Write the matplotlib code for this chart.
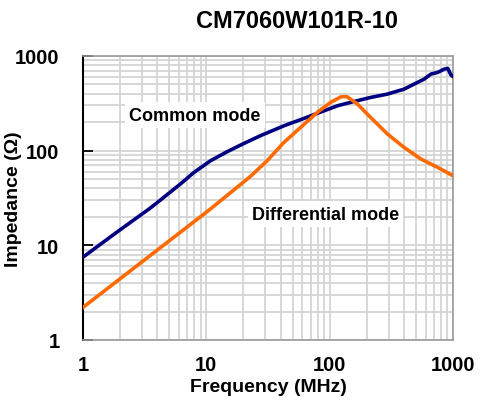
import matplotlib
matplotlib.use("Agg")
import matplotlib.pyplot as plt
from matplotlib.ticker import NullFormatter, LogLocator

plt.rcParams['font.family'] = ['Liberation Sans', 'DejaVu Sans']
plt.rcParams['font.weight'] = 'bold'

# Common mode impedance
f_cm = [1, 1.87, 3.49, 4.23, 6.3, 7.88, 10.8, 14.7, 20.1, 27.5, 42.5, 61.8, 79.4,
        115.6, 148, 215, 294, 402, 484, 584, 662, 751, 850, 906, 963, 1000]
z_cm = [7.5, 13.7, 24.6, 30.0, 45.5, 58.5, 78.2, 97.3, 119, 144, 183, 219, 248,
        298, 324, 365, 396, 447, 505, 570, 644, 671, 727, 740, 629, 609]

# Differential mode impedance
f_dm = [1, 10.8, 22.8, 31.1, 42.5, 58.1, 79.4, 102, 123, 131, 139, 168, 202,
        294, 402, 550, 751, 1000]
z_dm = [2.21, 24.2, 53.5, 78.2, 122, 176, 254, 324, 370, 373, 370, 311, 243,
        150, 108, 81.5, 66.6, 54.3]

title = "CM7060W101R-10"
xticks = [1, 10, 100, 1000]
yticks = [1, 10, 100, 1000]

fig = plt.figure(figsize=(4.91, 4.02), dpi=100)
ax = fig.add_axes([83/491, 1-341/402, (453-83)/491, (341-57)/402])

ax.set_xscale('log')
ax.set_yscale('log')
ax.set_xlim(1, 1000)
ax.set_ylim(1, 1000)

ax.grid(True, which='both', color='#d4d4d4', linewidth=1.3)
ax.set_axisbelow(True)

ax.plot(f_cm, z_cm, color='#000080', linewidth=2.6, zorder=3, solid_joinstyle='round')
ax.plot(f_dm, z_dm, color='#ff6a00', linewidth=2.6, zorder=3, solid_joinstyle='round')

ax.set_xticks(xticks)
ax.set_xticklabels([str(v) for v in xticks])
ax.set_yticks(yticks)
ax.set_yticklabels([str(v) for v in yticks])
ax.xaxis.set_minor_locator(LogLocator(base=10, subs=range(2, 10)))
ax.yaxis.set_minor_locator(LogLocator(base=10, subs=range(2, 10)))
ax.xaxis.set_minor_formatter(NullFormatter())
ax.yaxis.set_minor_formatter(NullFormatter())
ax.tick_params(axis='both', which='minor', length=0)
ax.tick_params(axis='x', which='major', length=0, pad=11, labelsize=14.5)
ax.tick_params(axis='y', which='major', direction='in', length=7, width=1.3,
               color='black', pad=17, labelsize=14.5)

for side in ['top', 'right', 'bottom']:
    ax.spines[side].set_color('#999999')
    ax.spines[side].set_linewidth(1.2)
ax.spines['left'].set_color('black')
ax.spines['left'].set_linewidth(1.5)

ax.set_xlabel("Frequency (MHz)", fontsize=14, fontweight='bold')
ax.xaxis.set_label_coords(0.5, -0.135)
ax.set_ylabel("Impedance (Ω)", fontsize=14, fontweight='bold')
ax.yaxis.set_label_coords(-0.165, 0.5)
fig.text(297/491, 1-22/402, title, ha='center', va='center', fontsize=17, fontweight='bold')

ax.text(8.1, 238, "Common mode", ha='center', va='center', fontsize=13, fontweight='bold',
        bbox=dict(facecolor='white', edgecolor='none', pad=3), zorder=4)
ax.text(93, 21.4, "Differential mode", ha='center', va='center', fontsize=13, fontweight='bold',
        bbox=dict(facecolor='white', edgecolor='none', pad=3), zorder=4)

fig.savefig("out.png", dpi=100)
